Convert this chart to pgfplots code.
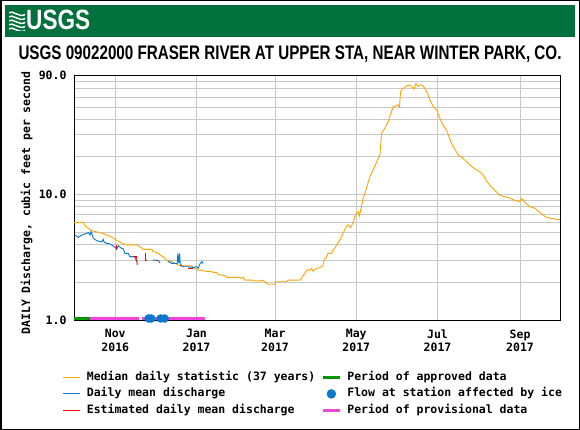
\documentclass[border=0pt]{standalone}
\usepackage{pgfplots}
\pgfplotsset{compat=1.18}
\usepackage{fontspec}
\setmainfont{Liberation Sans}
\setmonofont{DejaVu Sans Mono}
\definecolor{headgreen}{RGB}{0,112,60}
\definecolor{medorange}{RGB}{255,165,0}
\definecolor{dayblue}{RGB}{10,120,205}
\definecolor{estred}{RGB}{255,0,0}
\definecolor{apgreen}{RGB}{0,150,0}
\definecolor{provpink}{RGB}{240,70,220}
\definecolor{gridgray}{RGB}{200,200,200}
\newcommand{\monof}{\ttfamily\bfseries\fontsize{11.5pt}{13.5pt}\selectfont}
\begin{document}
\begin{tikzpicture}[x=1pt,y=1pt]
\useasboundingbox (0,0) rectangle (580,-430);
\fill[white] (0,0) rectangle (580,-430);
\fill[headgreen] (5,-5) rectangle (574.5,-36.7);
\begin{scope}
\clip (9,-11) rectangle (25,-30.5);
\foreach \k in {0,1,2,3,4}{
  \draw[white, line width=1.5pt] (8,-13-4*\k) .. controls (13,-9-4*\k) and (19,-19-4*\k) .. (26,-14-4*\k);
}
\end{scope}
\node[anchor=base west, inner sep=0pt, text=white] at (26,-30) {\resizebox{64pt}{\height}{\fontsize{27.9pt}{28pt}\selectfont\bfseries USGS}};
\node[anchor=base west, inner sep=0pt] at (18.3,-60) {\resizebox{543pt}{\height}{\fontsize{19.6pt}{20pt}\selectfont\bfseries USGS 09022000 FRASER RIVER AT UPPER STA, NEAR WINTER PARK, CO.}};
\begin{axis}[
 at={(74pt,-320pt)}, anchor=south west,
 width=486pt, height=245pt, scale only axis,
 xmin=0, xmax=365, ymin=1, ymax=90, ymode=log,
 clip=false,
 axis line style={line width=1pt, black},
 xtick={31,92,151,212,273,335},
 xticklabels={{Nov\\2016},{Jan\\2017},{Mar\\2017},{May\\2017},{Jul\\2017},{Sep\\2017}},
 ytick={1,10,90}, yticklabels={1.0,10.0,90.0},
 minor ytick={2,3,4,5,6,7,8,9,20,30,40,50,60,70,80},
 major tick length=0pt, minor tick length=0pt,
 grid=both,
 major grid style={gridgray, line width=1pt},
 minor grid style={gridgray, line width=1pt},
 xticklabel style={font=\monof, align=center, yshift=-6pt},
 yticklabel style={font=\monof, xshift=-4pt},
 ylabel={DAILY Discharge, cubic feet per second},
 ylabel style={font=\monof, at={(axis description cs:-0.0973,0.4776)}, anchor=center},
 legend columns=2,
 legend cell align=left,
 legend style={at={(axis description cs:-0.0233,-0.207)}, anchor=north west, draw=none, fill=none, inner sep=0pt, font=\monof, column sep=3pt, row sep=3.5pt, nodes={inner xsep=3pt, inner ysep=1pt, text height=8.5pt, text depth=2.5pt}},
]
% median daily statistic
\addplot[forget plot, medorange, line width=0.9pt] coordinates {
(0,6.0)(4.5,6.0)(7,6.0)(8,5.7)(9.5,5.5)(13.3,5.15)(17,5.05)(22,4.9)(24.5,4.75)(28.3,4.6)(30.8,4.4)(35.8,4.1)(39.6,3.97)(47,3.97)(49.5,3.85)(51.8,3.66)(58.6,3.66)(59.3,3.5)(60.8,3.5)(63.3,3.4)(64.6,3.3)(67,3.2)(69.6,3.0)(73.3,2.92)(75.8,2.83)(78.3,2.75)(80.9,2.7)(88.4,2.7)(89.6,2.63)(93.3,2.5)(95.9,2.5)(98.3,2.45)(103.4,2.43)(104.4,2.40)(107.4,2.40)(108.1,2.29)(111.1,2.29)(113.4,2.25)(114.9,2.19)(124.6,2.19)(125.9,2.15)(127.1,2.19)(128.4,2.08)(134.4,2.08)(135.9,2.05)(140.9,2.05)(142.1,2.08)(143.4,2.0)(144.7,1.96)(145.9,1.93)(150.9,1.93)(151.6,2.02)(159.7,2.02)(160.7,2.08)(169.7,2.08)(170.9,2.15)(172.1,2.26)(173.4,2.36)(174.9,2.5)(177.2,2.5)(178.4,2.58)(179.6,2.45)(182.2,2.58)(184.7,2.62)(186.9,2.7)(187.7,3.0)(189.7,3.2)(190.7,3.4)(193.5,3.4)(194.7,3.65)(195.9,3.75)(197.2,3.97)(199.7,4.37)(201,4.65)(202.2,4.95)(204.7,5.6)(205.9,5.75)(207.7,5.45)(209.7,6.0)(211,6.7)(212.2,7.2)(213.4,7.3)(214.2,6.7)(216,8.1)(217.2,9.4)(218.5,10.2)(219.7,11.3)(220.9,12.5)(222.2,13.9)(224.7,15.7)(228.5,19.5)(229.7,20.5)(231,30.9)(233.5,34)(236,38.2)(237.2,42)(239.7,50.3)(241.7,51)(243.5,51.9)(244.4,50)(245.3,66.3)(247,70)(249.8,73.5)(251.5,75)(253.5,73)(255.3,69.5)(256.8,77)(257.5,75)(258.3,73)(259.8,75)(261.3,75)(263.5,70.5)(266,62.2)(267.3,57)(269.8,50.3)(272.3,47.5)(274.8,40.6)(277,36)(279.8,32.8)(281.5,29)(283.6,25.6)(286,23)(288.5,20.7)(291.3,19.8)(294.8,18.3)(298,17)(302.3,15.7)(304.8,15.2)(307.3,14.3)(310,12.8)(312.3,11.9)(316,10.8)(319.8,9.9)(323.6,9.6)(327.3,9.4)(331,9.0)(334.8,8.8)(336.3,9.3)(338.6,8.7)(342.3,8.0)(346,7.8)(349.8,7.2)(354.8,6.6)(357.4,6.5)(362.4,6.35)(365,6.3)
};
% daily mean discharge
\addplot[forget plot, dayblue, line width=0.9pt] coordinates {
(0.7,4.76)(3.2,4.56)(5.8,4.76)(8.3,4.85)(10.7,4.98)(12,4.76)(12.8,5.08)(14.5,4.48)(17,4.3)(20.8,4.2)(22,4.4)(22.5,4.2)(24.5,4.09)(27,4.05)(29.5,3.89)(31.5,3.75)(32,3.66)(33.3,3.9)(35.8,3.73)(37,3.7)(38.3,3.4)(40.8,3.4)(42,3.2)(44.5,3.2)(46,3.15)(47,2.9)
};
\addplot[forget plot, dayblue, line width=0.9pt] coordinates {(59,3.0)(61.5,3.0)(63.3,2.98)(64.6,2.86)};
\addplot[forget plot, dayblue, line width=0.9pt] coordinates {
(70.5,2.98)(71.5,2.9)(73.3,2.83)(76.6,2.83)(77.5,2.83)(78,3.4)(78.6,2.85)(79.3,3.4)(79.8,2.8)(81,2.7)(81.8,2.66)(85.6,2.66)(89.6,2.62)(92.1,2.66)(93.3,2.59)(94.6,2.8)(95.9,2.92)(96.5,2.85)(97,2.9)
};
% estimated
\addplot[forget plot, estred, line width=0.9pt] coordinates {(32,4.0)(32,3.66)};
\addplot[forget plot, estred, line width=0.9pt] coordinates {(44.5,3.2)(47,3.2)(47.5,2.75)};
\addplot[forget plot, estred, line width=0.9pt] coordinates {(53.8,3.45)(53.8,3.0)(54.8,3.0)};
\addplot[forget plot, estred, line width=0.9pt] coordinates {(61.5,3.0)(63,3.0)};
\addplot[forget plot, estred, line width=0.9pt] coordinates {(80,2.75)(81,2.7)};
\addplot[forget plot, estred, line width=0.9pt] coordinates {(85.6,2.59)(89.6,2.59)};
% approval periods
\addplot[forget plot, apgreen, line width=3pt] coordinates {(0,1.022)(12,1.022)};
\addplot[forget plot, provpink, line width=3pt] coordinates {(12,1.022)(48.8,1.022)};
\addplot[forget plot, provpink, line width=3pt] coordinates {(51.3,1.022)(98.3,1.022)};
% ice
\addplot[forget plot, only marks, mark=*, mark size=4pt, dayblue] coordinates {(56,1.028)(58,1.028)(65,1.028)(68,1.028)};
% legend
\addlegendimage{medorange, line width=0.9pt}
\addlegendentry{Median daily statistic (37 years)}
\addlegendimage{apgreen, line width=3pt}
\addlegendentry{Period of approved data}
\addlegendimage{dayblue, line width=0.9pt}
\addlegendentry{Daily mean discharge}
\addlegendimage{only marks, mark=*, mark size=4.5pt, dayblue}
\addlegendentry{Flow at station affected by ice}
\addlegendimage{estred, line width=0.9pt}
\addlegendentry{Estimated daily mean discharge}
\addlegendimage{provpink, line width=3pt}
\addlegendentry{Period of provisional data}
\end{axis}
\draw[line width=1.5pt] (0.75,-0.75) rectangle (579.25,-429.25);
\end{tikzpicture}
\end{document}
